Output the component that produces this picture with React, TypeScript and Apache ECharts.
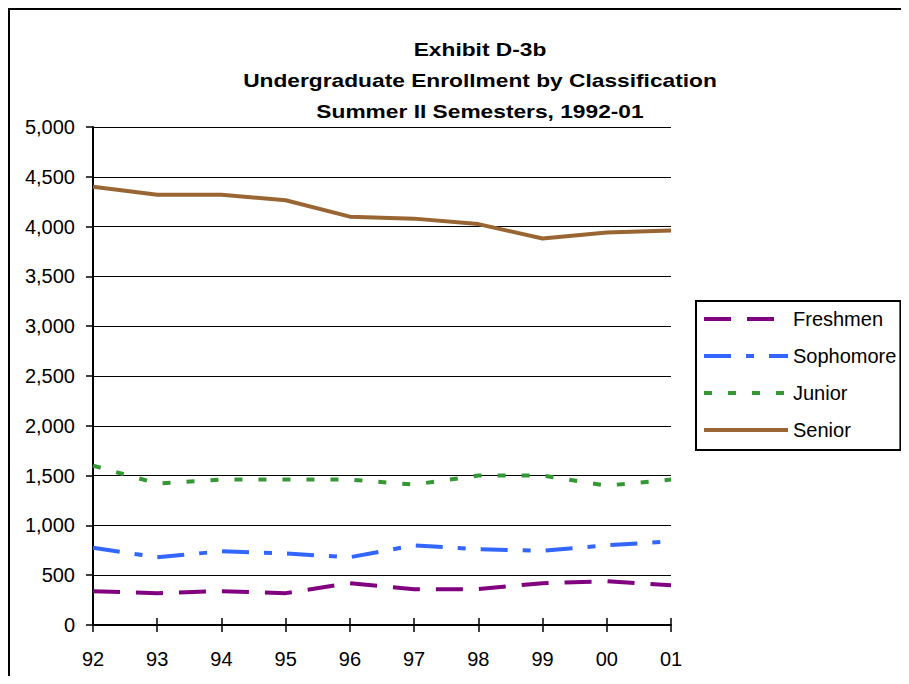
import React, { useEffect, useRef } from "react";
import * as echarts from "echarts";

const years = ["92", "93", "94", "95", "96", "97", "98", "99", "00", "01"];
const freshmen = [340, 320, 340, 320, 420, 360, 360, 420, 440, 400];
const sophomore = [775, 680, 740, 718, 680, 800, 760, 745, 800, 840];
const junior = [1600, 1420, 1460, 1460, 1460, 1410, 1500, 1500, 1400, 1460];
const senior = [4400, 4320, 4320, 4265, 4100, 4080, 4025, 3880, 3940, 3960];
const titleLines = [
  "Exhibit D-3b",
  "Undergraduate Enrollment by Classification",
  "Summer II Semesters, 1992-01",
];

const FONT = "'Liberation Sans', Arial, sans-serif";

export default function App() {
  const ref = useRef<HTMLDivElement>(null);
  useEffect(() => {
    if (!ref.current) return;
    const chart = echarts.init(ref.current, null, { renderer: "svg" });
    const mk = (name: string, data: number[], color: string, type: any) => ({
      name,
      type: "line",
      data,
      symbol: "none",
      lineStyle: { color, width: 4, type },
      itemStyle: { color },
    });
    const titleEls = titleLines.map((t, i) => ({
      type: "text",
      x: 472,
      y: 42 + i * 31,
      scaleX: 1.3,
      style: {
        text: t,
        align: "center",
        verticalAlign: "middle",
        fontFamily: FONT,
        fontWeight: "bold",
        fontSize: 17.5,
        fill: "#000",
      },
    }));
    chart.setOption({
      animation: false,
      backgroundColor: "#fff",
      textStyle: { fontFamily: FONT },
      graphic: [
        { type: "line", shape: { x1: 1, y1: 0, x2: 1, y2: 668 }, style: { stroke: "#000", lineWidth: 2 } },
        { type: "line", shape: { x1: 0, y1: 1, x2: 893, y2: 1 }, style: { stroke: "#000", lineWidth: 2 } },
        ...titleEls,
      ],
      legend: {
        orient: "vertical",
        left: 688,
        top: 293,
        borderColor: "#000",
        borderWidth: 2,
        borderRadius: 0,
        padding: [8, 4, 10, 6],
        itemWidth: 84,
        itemHeight: 16,
        itemGap: 17,
        itemStyle: { opacity: 0 },
        lineStyle: { width: 4 },
        textStyle: { fontFamily: FONT, fontSize: 20, color: "#000" },
        data: ["Freshmen", "Sophomore", "Junior", "Senior"],
      },
      grid: { left: 85, right: 230, top: 119, bottom: 51, containLabel: false },
      xAxis: [
        {
          type: "category",
          data: years,
          boundaryGap: false,
          axisLine: { lineStyle: { color: "#000", width: 2 } },
          axisTick: { length: 7, lineStyle: { color: "#000", width: 1.5 } },
          axisLabel: { color: "#000", fontSize: 20, fontFamily: FONT, margin: 24 },
          splitLine: { show: false },
        },
        {
          type: "category",
          data: years,
          boundaryGap: false,
          position: "bottom",
          axisLine: { show: false },
          axisTick: { inside: true, length: 7, lineStyle: { color: "#000", width: 1.5 } },
          axisLabel: { show: false },
          splitLine: { show: false },
        },
      ],
      yAxis: {
        type: "value",
        min: 0,
        max: 5000,
        interval: 500,
        axisLine: { show: true, lineStyle: { color: "#000", width: 2 } },
        axisTick: { show: true, length: 7, lineStyle: { color: "#000", width: 1.5 } },
        axisLabel: {
          color: "#000",
          fontSize: 20,
          fontFamily: FONT,
          margin: 18,
          formatter: (v: number) => v.toLocaleString("en-US"),
        },
        splitLine: { show: true, lineStyle: { color: "#000", width: 1 } },
      },
      series: [
        mk("Freshmen", freshmen, "#800080", [27, 16]),
        mk("Sophomore", sophomore, "#3366ff", [27, 15, 8, 15]),
        mk("Junior", junior, "#339933", [8, 16]),
        mk("Senior", senior, "#996633", "solid"),
      ],
    });
    return () => chart.dispose();
  }, []);
  return <div ref={ref} style={{ width: 893, height: 668 }} />;
}
